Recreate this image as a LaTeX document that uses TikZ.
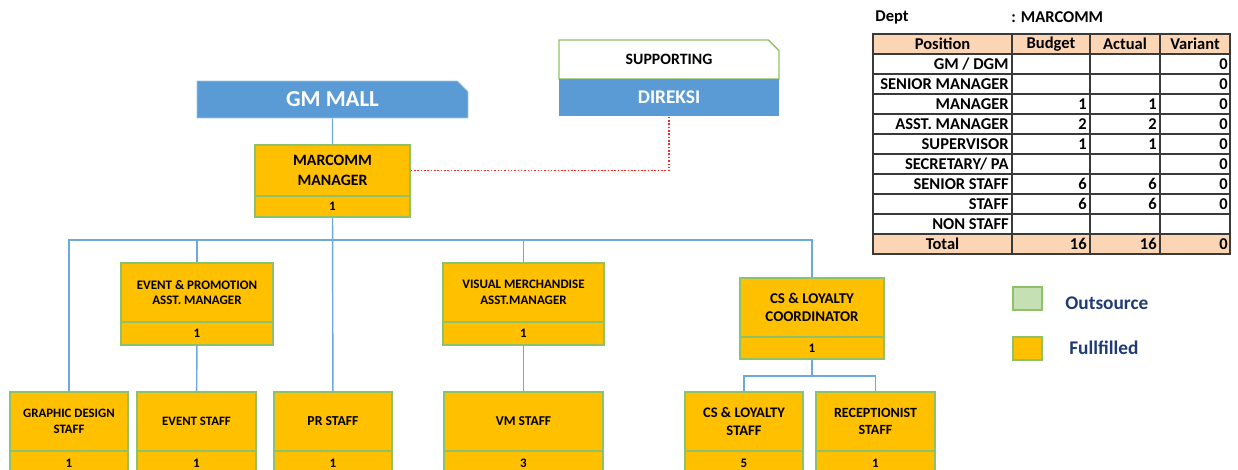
\documentclass[tikz,border=0pt]{standalone}
\usepackage{fontspec}
\setmainfont{Carlito}
\usetikzlibrary{shapes.misc}
\definecolor{mallblue}{HTML}{5B9BD5}
\definecolor{fillyellow}{HTML}{FFC000}
\definecolor{boxgreen}{HTML}{8FC168}
\definecolor{linkblue}{HTML}{6FA8DC}
\definecolor{headpeach}{HTML}{FCD5B4}
\definecolor{outgreen}{HTML}{C5E0B3}
\definecolor{legendnavy}{HTML}{1F3B73}
\definecolor{tabline}{HTML}{3A3A3A}
\tikzset{
  orgpart/.style={draw=boxgreen, fill=fillyellow, line width=0.8pt, inner sep=0pt, align=center},
  link/.style={draw=linkblue, line width=0.8pt},
  tabtxt/.style={inner sep=0pt, font=\bfseries\fontsize{9.4}{11}\selectfont}
}
\newcommand{\orgbox}[9][7.4]{%
  \pgfmathsetmacro\orgskip{1.22*#1}%
  \node[orgpart, font=\bfseries\fontsize{#1}{\orgskip}\selectfont, minimum width={(#4-#3)*0.02cm}, minimum height={(#6-#5)*0.02cm}] (#2) at ({(#3+#4)/2},{(#5+#6)/2}) {#8};
  \node[orgpart, font=\bfseries\fontsize{7.4}{9}\selectfont, minimum width={(#4-#3)*0.02cm}, minimum height={(#7-#6)*0.02cm}] (#2n) at ({(#3+#4)/2},{(#6+#7)/2}) {#9};
}
\begin{document}
\begin{tikzpicture}[x=0.02cm,y=-0.02cm]
  \useasboundingbox (0,0) rectangle (1238,470);
  \node[chamfered rectangle, chamfered rectangle corners=north east, chamfered rectangle xsep=0.1cm,
    draw=mallblue!60, fill=mallblue, text=white, inner sep=0pt, minimum width=5.42cm, minimum height=0.74cm,
    font=\bfseries\fontsize{13}{15}\selectfont] (gm) at (332.5,99.5) {GM MALL};
  \node[chamfered rectangle, chamfered rectangle corners=north east, chamfered rectangle xsep=0.1cm,
    draw=boxgreen, fill=white, line width=0.8pt, inner sep=0pt, minimum width=4.4cm, minimum height=0.78cm,
    font=\bfseries\fontsize{9}{11}\selectfont] (sup) at (669,59.5) {SUPPORTING};
  \node[fill=mallblue, text=white, inner sep=0pt, minimum width=4.4cm, minimum height=0.74cm,
    font=\bfseries\fontsize{11}{13}\selectfont] (dir) at (669,97.5) {DIREKSI};
  \orgbox[9]{mgr}{255}{410}{145}{196}{217}{MARCOMM\\MANAGER}{1}
  \orgbox{ev}{121}{273}{263}{322}{345}{EVENT \& PROMOTION\\ASST. MANAGER}{1}
  \orgbox{vm}{443}{604}{263}{322}{345}{VISUAL MERCHANDISE\\ASST.MANAGER}{1}
  \orgbox[8.5]{csc}{740}{884}{278}{337}{359}{CS \& LOYALTY\\COORDINATOR}{1}
  \orgbox[7.3]{gd}{10}{128}{392}{451}{476}{GRAPHIC DESIGN\\STAFF}{1}
  \orgbox[7.3]{evs}{137}{256}{392}{451}{476}{EVENT STAFF}{1}
  \orgbox[7.8]{prs}{274}{392}{392}{451}{476}{PR STAFF}{1}
  \orgbox[7.7]{vms}{444}{603}{392}{451}{476}{VM STAFF}{3}
  \orgbox[8.3]{css}{685}{803}{392}{451}{476}{CS \& LOYALTY\\STAFF}{5}
  \orgbox[8]{rec}{816}{935}{392}{451}{476}{RECEPTIONIST\\STAFF}{1}
  \coordinate (bus) at (333,240);
  \coordinate (subbus) at (812,376);
  \draw[link] (gm) -- (mgr);
  \draw[link] (mgrn) -- (prs);
  \draw[link] (gd) |- (bus) -| (csc);
  \draw[link] (ev) |- (bus);
  \draw[link] (vm) |- (bus);
  \draw[link] (evn) -- (evs);
  \draw[link] (vmn) -- (vms);
  \draw[link] (cscn) -- (subbus);
  \draw[link] (css) |- (subbus) -| (rec);
  \draw[red!85, densely dotted, line width=0.9pt] (mgr) -| (dir);
  \fill[headpeach] (873,34) rectangle (1230,54);
  \fill[headpeach] (873,234) rectangle (1230,254);
  \foreach \y in {54,74,...,234} \draw[tabline, line width=0.6pt] (873,\y) -- (1230,\y);
  \foreach \x in {1012,1090,1160} \draw[tabline, line width=0.6pt] (\x,34) -- (\x,254);
  \draw[tabline, line width=0.8pt] (873,34) rectangle (1230,254);
  \node[tabtxt, anchor=west] (dept) at (875,17) {Dept};
  \node[tabtxt, anchor=west] (deptname) at (1011,17) {: MARCOMM};
  \node[tabtxt] (hpos) at (942.5,44) {Position};
  \node[tabtxt] (hbud) at (1051,44) {Budget};
  \node[tabtxt] (hact) at (1125,44) {Actual};
  \node[tabtxt] (hvar) at (1195,44) {Variant};
  \foreach \pos/\bud/\act/\var [count=\i] in {{GM / DGM}/{}/{}/0, {SENIOR MANAGER}/{}/{}/0, MANAGER/1/1/0,
      {ASST. MANAGER}/2/2/0, SUPERVISOR/1/1/0, {SECRETARY/ PA}/{}/{}/0, {SENIOR STAFF}/6/6/0, STAFF/6/6/0,
      {NON STAFF}/{}/{}/{}}{
    \node[tabtxt, anchor=east] (pos\i) at (1009,{44+20*\i}) {\pos};
    \node[tabtxt, anchor=east] (bud\i) at (1087,{44+20*\i}) {\bud};
    \node[tabtxt, anchor=east] (act\i) at (1157,{44+20*\i}) {\act};
    \node[tabtxt, anchor=east] (var\i) at (1228,{44+20*\i}) {\var};
  }
  \node[tabtxt] (tot) at (942.5,244) {Total};
  \node[tabtxt, anchor=east] (totbud) at (1087,244) {16};
  \node[tabtxt, anchor=east] (totact) at (1157,244) {16};
  \node[tabtxt, anchor=east] (totvar) at (1228,244) {0};
  \node[draw=boxgreen, fill=outgreen, line width=0.8pt, minimum width=0.58cm, minimum height=0.46cm, inner sep=0pt] (lgout) at (1027.5,298.5) {};
  \node[draw=boxgreen, fill=fillyellow, line width=0.8pt, minimum width=0.58cm, minimum height=0.46cm, inner sep=0pt] (lgfull) at (1027.5,348.5) {};
  \node[anchor=west, inner sep=0pt, text=legendnavy, font=\bfseries\fontsize{11}{13}\selectfont] (lgoutt) at (1065,303) {Outsource};
  \node[anchor=west, inner sep=0pt, text=legendnavy, font=\bfseries\fontsize{11}{13}\selectfont] (lgfullt) at (1069,348) {Fullfilled};
\end{tikzpicture}
\end{document}
